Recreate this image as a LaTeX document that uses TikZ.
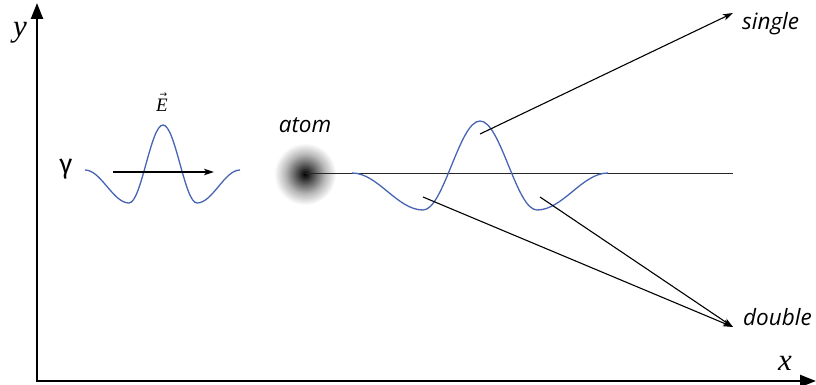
\documentclass[tikz,border=0pt]{standalone}
\usepackage{fontspec}
\newfontfamily\labfont{Open Sans}
\newfontfamily\gammafont{Fira Sans}
\newfontfamily\serifit{Liberation Serif}
\newfontfamily\arrowfont{DejaVu Sans}
\usetikzlibrary{arrows.meta}
\pgfdeclareradialshading{atomshade}{\pgfpoint{0bp}{0bp}}{color(0bp)=(black); color(2.5bp)=(black!88); color(9bp)=(black!58); color(16bp)=(black!28); color(25bp)=(white); color(50bp)=(white)}
\definecolor{wave}{RGB}{72,100,180}
\begin{document}
\begin{tikzpicture}[x=1pt,y=-1pt,
  axis/.style={line width=2.4pt,-{Triangle[length=16pt,width=12pt]}},
  conn/.style={line width=1.1pt,-{Stealth[length=10pt,width=6.5pt,inset=2.5pt]}},
  wavy/.style={draw=wave,line width=1.3pt},
  sanslab/.style={font=\labfont\itshape\fontsize{22.5}{22.5}\selectfont,inner sep=0pt},
  mathlab/.style={font=\serifit\itshape\fontsize{31}{31}\selectfont,inner sep=0pt}]
\useasboundingbox (0,0) rectangle (816,385);
% atom
\shade[shading=atomshade] (305,174) circle (31);
\coordinate (atom) at (305,173);
% axes
\coordinate (origin) at (37,381);
\coordinate (ytip) at (37,3);
\coordinate (xtip) at (816,381);
\draw[axis] (origin) -- (ytip);
\draw[axis] ([xshift=-1.2pt]origin) -- (xtip);
\node[mathlab] (ylab) at (20,33) {y};
\node[mathlab] (xlab) at (785,363) {x};
% horizontal line
\coordinate (hend) at (733,173);
\draw[line width=1pt,black!85] (atom) -- (hend);
% left wave
\draw[wavy] (85,170) cos (107,186.5) sin (129,203) cos (146,164) sin (163,125)
  cos (180,164) sin (197,203) cos (218.5,186.5) sin (240,170);
\coordinate (pa) at (113,172);
\coordinate (pb) at (214,172);
\draw[conn] (pa) -- (pb);
\node[inner sep=0pt,anchor=base,font=\serifit\itshape\fontsize{19}{19}\selectfont] (E) at (162,112)
  {\makebox[0pt][l]{\raisebox{14pt}{\hspace{3.5pt}\arrowfont\upshape\fontsize{9}{9}\selectfont →}}E};
\node[inner sep=0pt,font=\gammafont\fontsize{27}{27}\selectfont] (gamma) at (66,169) {γ};
\node[sanslab,anchor=base] (atomlab) at (305,132) {atom};
% right wave
\draw[wavy] (352,173) cos (387.5,191.5) sin (423,210) cos (451.5,165.5) sin (480,121)
  cos (508.5,165.5) sin (537,210) cos (572.5,191.5) sin (608,173);
% scattering arrows
\coordinate (s0) at (480,134);
\coordinate (d1) at (423,197);
\coordinate (d2) at (540,197);
\coordinate (stip) at (733,13);
\coordinate (dtip) at (733,327);
\draw[conn] (s0) -- (stip);
\draw[conn] (d1) -- (dtip);
\draw[conn] (d2) -- (dtip);
\node[sanslab,anchor=base west] (single) at (742,30) {single};
\node[sanslab,anchor=base west] (double) at (743,325) {double};
\end{tikzpicture}
\end{document}
